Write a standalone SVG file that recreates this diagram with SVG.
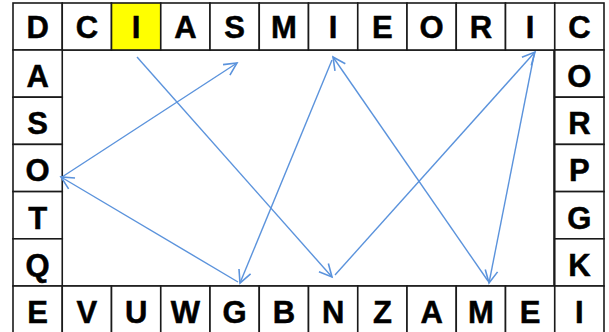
<svg xmlns="http://www.w3.org/2000/svg" width="609" height="332" viewBox="0 0 609 332">
<defs>
<style>
.c{fill:#fff;stroke:#1a1a1a;stroke-width:1.6}
.y{fill:#ffff00;stroke:#1a1a1a;stroke-width:1.6}
.t{font-family:"Liberation Sans",Arial,sans-serif;font-weight:bold;font-size:31px;fill:#000;stroke:#000;stroke-width:0.5;text-anchor:middle}
.a{fill:none;stroke:#5b93dc;stroke-width:1.4;marker-end:url(#ah)}
</style>
<marker id="ah" markerUnits="userSpaceOnUse" markerWidth="16" markerHeight="16" refX="12" refY="6" orient="auto" viewBox="0 0 14 12">
<path d="M1,0.5 L12,6 L1,11.5" fill="none" stroke="#5b93dc" stroke-width="1.4"/>
</marker>
</defs>
<rect x="0" y="0" width="609" height="332" fill="#fff"/>
<rect x="62" y="50" width="492" height="236" fill="#fff" stroke="#1a1a1a" stroke-width="1.6"/>
<!-- top row -->
<g id="t0"><rect class="c" x="13" y="3" width="49.25" height="47"/><text class="t" x="37.6" y="38">D</text></g>
<g id="t1"><rect class="c" x="62.25" y="3" width="49.25" height="47"/><text class="t" x="86.9" y="38">C</text></g>
<g id="t2"><rect class="y" x="111.5" y="3" width="49.25" height="47"/><text class="t" x="136.1" y="38">I</text></g>
<g id="t3"><rect class="c" x="160.75" y="3" width="49.25" height="47"/><text class="t" x="185.4" y="38">A</text></g>
<g id="t4"><rect class="c" x="210" y="3" width="49.25" height="47"/><text class="t" x="234.6" y="38">S</text></g>
<g id="t5"><rect class="c" x="259.25" y="3" width="49.25" height="47"/><text class="t" x="283.9" y="38">M</text></g>
<g id="t6"><rect class="c" x="308.5" y="3" width="49.25" height="47"/><text class="t" x="333.1" y="38">I</text></g>
<g id="t7"><rect class="c" x="357.75" y="3" width="49.25" height="47"/><text class="t" x="382.4" y="38">E</text></g>
<g id="t8"><rect class="c" x="407" y="3" width="49.25" height="47"/><text class="t" x="431.6" y="38">O</text></g>
<g id="t9"><rect class="c" x="456.25" y="3" width="49.25" height="47"/><text class="t" x="480.9" y="38">R</text></g>
<g id="t10"><rect class="c" x="505.5" y="3" width="49.25" height="47"/><text class="t" x="530.1" y="38">I</text></g>
<g id="t11"><rect class="c" x="554.75" y="3" width="49.25" height="47"/><text class="t" x="579.4" y="38">C</text></g>
<!-- left column -->
<g id="l1"><rect class="c" x="13" y="50" width="49.25" height="47.2"/><text class="t" x="37.6" y="87">A</text></g>
<g id="l2"><rect class="c" x="13" y="97.2" width="49.25" height="47.2"/><text class="t" x="37.6" y="134.2">S</text></g>
<g id="l3"><rect class="c" x="13" y="144.4" width="49.25" height="47.2"/><text class="t" x="37.6" y="181.4">O</text></g>
<g id="l4"><rect class="c" x="13" y="191.6" width="49.25" height="47.2"/><text class="t" x="37.6" y="228.6">T</text></g>
<g id="l5"><rect class="c" x="13" y="238.8" width="49.25" height="47.2"/><text class="t" x="37.6" y="275.8">Q</text></g>
<!-- right column -->
<g id="r1"><rect class="c" x="554.75" y="50" width="49.25" height="47.2"/><text class="t" x="579.4" y="87">O</text></g>
<g id="r2"><rect class="c" x="554.75" y="97.2" width="49.25" height="47.2"/><text class="t" x="579.4" y="134.2">R</text></g>
<g id="r3"><rect class="c" x="554.75" y="144.4" width="49.25" height="47.2"/><text class="t" x="579.4" y="181.4">P</text></g>
<g id="r4"><rect class="c" x="554.75" y="191.6" width="49.25" height="47.2"/><text class="t" x="579.4" y="228.6">G</text></g>
<g id="r5"><rect class="c" x="554.75" y="238.8" width="49.25" height="47.2"/><text class="t" x="579.4" y="275.8">K</text></g>
<!-- bottom row -->
<g id="b0"><rect class="c" x="13" y="286" width="49.25" height="47"/><text class="t" x="37.6" y="323">E</text></g>
<g id="b1"><rect class="c" x="62.25" y="286" width="49.25" height="47"/><text class="t" x="86.9" y="323">V</text></g>
<g id="b2"><rect class="c" x="111.5" y="286" width="49.25" height="47"/><text class="t" x="136.1" y="323">U</text></g>
<g id="b3"><rect class="c" x="160.75" y="286" width="49.25" height="47"/><text class="t" x="185.4" y="323">W</text></g>
<g id="b4"><rect class="c" x="210" y="286" width="49.25" height="47"/><text class="t" x="234.6" y="323">G</text></g>
<g id="b5"><rect class="c" x="259.25" y="286" width="49.25" height="47"/><text class="t" x="283.9" y="323">B</text></g>
<g id="b6"><rect class="c" x="308.5" y="286" width="49.25" height="47"/><text class="t" x="333.1" y="323">N</text></g>
<g id="b7"><rect class="c" x="357.75" y="286" width="49.25" height="47"/><text class="t" x="382.4" y="323">Z</text></g>
<g id="b8"><rect class="c" x="407" y="286" width="49.25" height="47"/><text class="t" x="431.6" y="323">A</text></g>
<g id="b9"><rect class="c" x="456.25" y="286" width="49.25" height="47"/><text class="t" x="480.9" y="323">M</text></g>
<g id="b10"><rect class="c" x="505.5" y="286" width="49.25" height="47"/><text class="t" x="530.1" y="323">E</text></g>
<g id="b11"><rect class="c" x="554.75" y="286" width="49.25" height="47"/><text class="t" x="579.4" y="323">I</text></g>
<!-- connectors -->
<g id="connectors">
<line class="a" x1="137" y1="57" x2="332" y2="277"/>
<line class="a" x1="335" y1="275" x2="535" y2="52"/>
<line class="a" x1="534" y1="55" x2="489" y2="283"/>
<line class="a" x1="488" y1="281" x2="333" y2="57"/>
<line class="a" x1="332" y1="60" x2="240" y2="283"/>
<line class="a" x1="238" y1="282" x2="61" y2="177"/>
<line class="a" x1="62" y1="177" x2="237" y2="63"/>
</g>
</svg>
